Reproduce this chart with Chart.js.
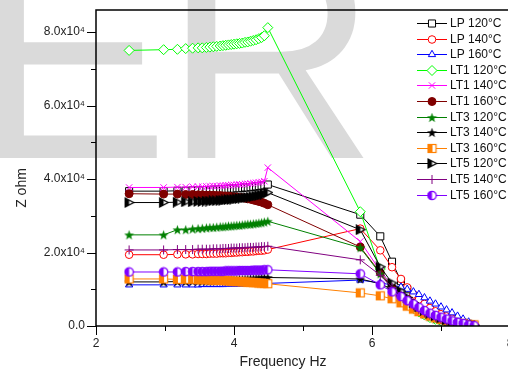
<!DOCTYPE html>
<html>
<head>
<meta charset="utf-8">
<script src="https://cdn.jsdelivr.net/npm/chart.js@4.4.1/dist/chart.umd.min.js"></script>
<style>
html, body { margin: 0; padding: 0; background: #fff; width: 508px; height: 370px; overflow: hidden; }
#wrap { position: relative; width: 520px; height: 370px; }
#wm { position: absolute; left: -28px; top: -92px; font: 296px/1 "Liberation Sans", Arial, sans-serif;
      color: #dadada; white-space: nowrap; letter-spacing: -6px; }
#c { position: absolute; left: 0; top: 0; }
</style>
</head>
<body>
<div id="wrap">
  <div id="wm">ER</div>
  <canvas id="c" width="520" height="370"></canvas>
</div>
<script>
// Z (ohm) vs log frequency — values in units of 1e4 ohm
const FONT = '"Liberation Sans", Arial, sans-serif';

const LOG_F = [2.48, 2.98, 3.18, 3.30, 3.40, 3.48, 3.54, 3.60, 3.65, 3.70, 3.75, 3.80, 3.84, 3.88, 3.92, 3.96, 4.00,
               4.04, 4.08, 4.12, 4.16, 4.20, 4.24, 4.28, 4.32, 4.36, 4.40, 4.44, 4.49,
               5.83, 6.12, 6.29, 6.42, 6.51, 6.60, 6.68, 6.76, 6.84, 6.92, 7.00, 7.08, 7.16, 7.24, 7.32, 7.40, 7.48];

const LP_120  = [3.67,3.67,3.68,3.68,3.69,3.69,3.69,3.70,3.70,3.71,3.71,3.72,3.72,3.73,3.73,3.74,3.74,3.75,3.75,3.76,3.77,3.77,3.78,3.79,3.80,3.81,3.82,3.83,3.85,
                 3.03,2.44,1.75,1.22,1.00,0.82,0.68,0.56,0.46,0.37,0.30,0.24,0.18,0.13,0.09,0.06,0.03];
const LP_140  = [1.94,1.94,1.95,1.95,1.95,1.96,1.96,1.96,1.97,1.97,1.97,1.98,1.98,1.98,1.99,1.99,2.00,2.00,2.01,2.01,2.02,2.02,2.03,2.03,2.04,2.05,2.05,2.06,2.08,
                 2.65,2.06,1.60,1.28,1.05,0.86,0.72,0.60,0.49,0.40,0.32,0.26,0.20,0.15,0.10,0.07,0.04];
const LP_160  = [1.12,1.12,1.12,1.12,1.12,1.12,1.13,1.13,1.13,1.13,1.13,1.13,1.13,1.14,1.14,1.14,1.14,1.14,1.14,1.14,1.15,1.15,1.15,1.15,1.15,1.15,1.15,1.16,1.16,
                 1.25,1.17,1.12,1.06,1.00,0.93,0.86,0.77,0.68,0.60,0.52,0.44,0.36,0.27,0.19,0.11,0.04];
const LT1_120 = [7.50,7.52,7.53,7.55,7.56,7.57,7.57,7.58,7.59,7.60,7.61,7.62,7.63,7.64,7.65,7.66,7.67,7.68,7.69,7.70,7.72,7.73,7.75,7.77,7.79,7.82,7.85,7.90,8.12,
                 3.11,1.55,1.05,0.80,0.62,0.48,0.38,0.30,0.23,0.18,0.14,0.10,0.07,0.05,0.03,0.02,0.01];
const LT1_140 = [3.77,3.77,3.78,3.78,3.79,3.79,3.79,3.80,3.80,3.81,3.81,3.82,3.82,3.83,3.83,3.84,3.84,3.85,3.85,3.86,3.87,3.87,3.88,3.89,3.90,3.91,3.92,3.94,4.31,
                 2.30,1.50,1.10,0.85,0.68,0.55,0.44,0.36,0.29,0.23,0.18,0.14,0.10,0.07,0.05,0.03,0.02];
const LT1_160 = [3.60,3.59,3.59,3.58,3.58,3.57,3.57,3.56,3.56,3.56,3.55,3.55,3.54,3.54,3.53,3.52,3.51,3.51,3.50,3.49,3.48,3.46,3.45,3.43,3.41,3.39,3.37,3.34,3.30,
                 2.15,1.45,1.05,0.82,0.66,0.53,0.43,0.35,0.28,0.22,0.17,0.13,0.10,0.07,0.05,0.03,0.02];
const LT3_120 = [2.48,2.48,2.62,2.62,2.64,2.65,2.66,2.67,2.68,2.68,2.69,2.70,2.70,2.71,2.72,2.72,2.73,2.74,2.74,2.75,2.76,2.77,2.77,2.78,2.79,2.80,2.81,2.83,2.85,
                 2.13,1.42,1.02,0.80,0.63,0.50,0.40,0.32,0.25,0.19,0.14,0.10,0.07,0.04,0.02,0.01,0.00];
const LT3_140 = [1.20,1.20,1.21,1.21,1.22,1.22,1.22,1.23,1.23,1.23,1.24,1.24,1.24,1.25,1.25,1.26,1.26,1.26,1.27,1.27,1.28,1.28,1.29,1.29,1.30,1.30,1.31,1.31,1.32,
                 1.28,1.15,1.00,0.85,0.70,0.58,0.48,0.40,0.33,0.27,0.22,0.17,0.13,0.09,0.06,0.04,0.02];
const LT3_160 = [1.28,1.28,1.27,1.27,1.27,1.26,1.26,1.26,1.25,1.25,1.25,1.24,1.24,1.23,1.23,1.22,1.22,1.21,1.21,1.20,1.20,1.19,1.19,1.18,1.18,1.17,1.17,1.16,1.15,
                 0.90,0.82,0.74,0.63,0.54,0.46,0.39,0.33,0.27,0.22,0.18,0.14,0.11,0.08,0.06,0.04,0.03];
const LT5_120 = [3.36,3.36,3.37,3.38,3.38,3.39,3.39,3.40,3.40,3.41,3.41,3.42,3.42,3.43,3.44,3.44,3.45,3.46,3.47,3.48,3.49,3.50,3.51,3.52,3.54,3.55,3.57,3.59,3.63,
                 2.62,1.61,1.17,0.95,0.78,0.64,0.52,0.43,0.35,0.28,0.22,0.17,0.13,0.09,0.06,0.04,0.02];
const LT5_140 = [2.07,2.07,2.08,2.08,2.08,2.09,2.09,2.09,2.09,2.10,2.10,2.10,2.11,2.11,2.11,2.12,2.12,2.12,2.13,2.13,2.13,2.14,2.14,2.14,2.15,2.15,2.16,2.16,2.17,
                 1.80,1.38,1.05,0.84,0.68,0.55,0.45,0.37,0.30,0.24,0.19,0.15,0.11,0.08,0.05,0.03,0.02];
const LT5_160 = [1.47,1.47,1.47,1.48,1.48,1.48,1.48,1.48,1.49,1.49,1.49,1.49,1.49,1.50,1.50,1.50,1.50,1.50,1.51,1.51,1.51,1.51,1.51,1.52,1.52,1.52,1.52,1.53,1.53,
                 1.42,1.12,0.93,0.80,0.69,0.60,0.51,0.42,0.35,0.29,0.24,0.19,0.14,0.10,0.07,0.03,0.01];

const NAMES  = ['LP 120°C','LP 140°C','LP 160°C','LT1 120°C','LT1 140°C','LT1 160°C',
                'LT3 120°C','LT3 140°C','LT3 160°C','LT5 120°C','LT5 140°C','LT5 160°C'];
const SERIES = [LP_120, LP_140, LP_160, LT1_120, LT1_140, LT1_160, LT3_120, LT3_140, LT3_160, LT5_120, LT5_140, LT5_160];
const COLORS = ['#000000','#ff0000','#0000ff','#00ff00','#ff00ff','#800000',
                '#008000','#000000','#ff8000','#000000','#800080','#8000ff'];
const X_TICKS = [2, 4, 6, 8];
const Y_TICKS = [0, 20000, 40000, 60000, 80000];

// ─── custom marker canvases ───
function mk(size, draw) {
  const c = document.createElement('canvas');
  c.width = c.height = size;
  draw(c.getContext('2d'), size / 2);
  return c;
}
function star(color) {
  return mk(11, (g, m) => {
    g.beginPath();
    for (let k = 0; k < 10; k++) {
      const r = k % 2 ? 2.1 : 5.2, a = -Math.PI / 2 + k * Math.PI / 5;
      g.lineTo(m + r * Math.cos(a), m + 0.5 + r * Math.sin(a));
    }
    g.closePath();
    g.fillStyle = color; g.fill();
  });
}
function halfCircle(color) {
  return mk(11, (g, m) => {
    g.fillStyle = '#fff'; g.beginPath(); g.arc(m, m, 4.2, 0, 2 * Math.PI); g.fill();
    g.fillStyle = color; g.beginPath(); g.arc(m, m, 4.2, Math.PI / 2, Math.PI * 1.5); g.fill();
    g.strokeStyle = color; g.lineWidth = 1.3; g.beginPath(); g.arc(m, m, 4.2, 0, 2 * Math.PI); g.stroke();
  });
}
function halfSquare(color) {
  return mk(11, (g, m) => {
    g.fillStyle = '#fff'; g.fillRect(1.5, 1.5, 8, 8);
    g.fillStyle = color; g.fillRect(1.5, 1.5, 4.5, 8);
    g.strokeStyle = color; g.lineWidth = 1.2; g.strokeRect(1.5, 1.5, 8, 8);
  });
}
function halfRightTri(color) {
  return mk(11, (g, m) => {
    const path = () => { g.beginPath(); g.moveTo(1.5, 1); g.lineTo(10, 5.5); g.lineTo(1.5, 10); g.closePath(); };
    path(); g.fillStyle = '#fff'; g.fill();
    g.save(); g.beginPath(); g.rect(0, 0, 5.5, 11); g.clip(); path(); g.fillStyle = color; g.fill(); g.restore();
    path(); g.strokeStyle = color; g.lineWidth = 1.2; g.stroke();
  });
}

const MARKERS = [
  { style: 'rect',     r: 5,   bg: '#fff' },
  { style: 'circle',   r: 3.8, bg: '#fff' },
  { style: 'triangle', r: 4.2, bg: '#fff' },
  { style: 'rectRot',  r: 5,   bg: '#fff' },
  { style: 'crossRot', r: 4.5, bg: COLORS[4] },
  { style: 'circle',   r: 4,   bg: COLORS[5] },
  { style: star(COLORS[6]),         r: 5, bg: COLORS[6] },
  { style: star(COLORS[7]),         r: 5, bg: COLORS[7] },
  { style: halfSquare(COLORS[8]),   r: 5, bg: COLORS[8] },
  { style: halfRightTri(COLORS[9]), r: 5, bg: COLORS[9] },
  { style: 'cross',    r: 4.5, bg: COLORS[10] },
  { style: halfCircle(COLORS[11]),  r: 5, bg: COLORS[11] },
];

const datasets = SERIES.map((vals, i) => ({
  label: NAMES[i],
  data: vals.map((v, k) => ({ x: LOG_F[k], y: v * 1e4 })),
  borderColor: COLORS[i],
  backgroundColor: MARKERS[i].bg,
  borderWidth: 1,
  pointStyle: MARKERS[i].style,
  pointRadius: MARKERS[i].r,
  pointBackgroundColor: MARKERS[i].bg,
  pointBorderColor: COLORS[i],
  pointBorderWidth: 1,
  tension: 0,
  order: SERIES.length - i,   // later series on top, like the original
}));

// ─── axes frame, ticks, titles ───
const framePlugin = {
  id: 'frame',
  afterDraw(chart) {
    const { ctx, chartArea: a, scales: { x, y } } = chart;
    ctx.save();
    ctx.strokeStyle = '#000';
    ctx.lineWidth = 1.5;
    ctx.strokeRect(a.left, a.top, a.right - a.left, a.bottom - a.top);
    ctx.lineWidth = 1;
    ctx.beginPath();
    X_TICKS.forEach((v, i) => {
      const px = Math.round(x.getPixelForValue(v)) + 0.5;
      ctx.moveTo(px, a.bottom); ctx.lineTo(px, a.bottom + 9);
      if (i < X_TICKS.length - 1) {
        const pm = Math.round(x.getPixelForValue(v + 1)) + 0.5;
        ctx.moveTo(pm, a.bottom); ctx.lineTo(pm, a.bottom + 5);
      }
    });
    Y_TICKS.forEach((v, i) => {
      const py = Math.round(y.getPixelForValue(v)) + 0.5;
      ctx.moveTo(a.left, py); ctx.lineTo(a.left - 9, py);
      if (i < Y_TICKS.length - 1) {
        const pm = Math.round(y.getPixelForValue(v + 10000)) + 0.5;
        ctx.moveTo(a.left, pm); ctx.lineTo(a.left - 5, pm);
      }
    });
    ctx.stroke();

    ctx.fillStyle = '#222';
    ctx.font = '14px ' + FONT;
    ctx.textAlign = 'center';
    ctx.textBaseline = 'middle';
    ctx.fillText('Frequency Hz', 283, 362);
    ctx.translate(22, 188);
    ctx.rotate(-Math.PI / 2);
    ctx.fillText('Z ohm', 0, 0);
    ctx.restore();
  }
};

// ─── legend: line + marker + label ───
const legendPlugin = {
  id: 'sideLegend',
  afterDraw(chart) {
    const ctx = chart.ctx;
    ctx.save();
    ctx.font = '12px ' + FONT;
    ctx.textBaseline = 'middle';
    chart.data.datasets.forEach((ds, i) => {
      const y = Math.round(23 + i * 15.6) + 0.5;
      ctx.strokeStyle = ds.borderColor;
      ctx.lineWidth = 1;
      ctx.beginPath(); ctx.moveTo(417, y); ctx.lineTo(447, y); ctx.stroke();
      ctx.fillStyle = ds.pointBackgroundColor;
      ctx.strokeStyle = ds.pointBorderColor;
      Chart.helpers.drawPoint(ctx, { pointStyle: ds.pointStyle, radius: ds.pointRadius, borderWidth: 1, rotation: 0 }, 432, y);
      ctx.fillStyle = '#111';
      ctx.fillText(ds.label, 450, y + 0.5);
    });
    ctx.restore();
  }
};

new Chart(document.getElementById('c').getContext('2d'), {
  type: 'line',
  data: { datasets },
  options: {
    responsive: false,
    animation: false,
    layout: { padding: { top: 10, right: 10, left: 0, bottom: 0 } },
    plugins: { legend: { display: false }, tooltip: { enabled: false } },
    scales: {
      x: {
        type: 'linear', min: 2, max: 8,
        afterFit: s => { s.height = 44; },
        afterBuildTicks: s => { s.ticks = X_TICKS.map(v => ({ value: v })); },
        grid: { display: false, drawTicks: true, tickLength: 9 },
        border: { display: false },
        ticks: { padding: 1, maxRotation: 0, autoSkip: false, color: '#222',
                 font: { size: 12, family: FONT }, callback: v => v },
      },
      y: {
        min: 0, max: 86000,
        afterFit: s => { s.width = 96; },
        afterBuildTicks: s => { s.ticks = Y_TICKS.map(v => ({ value: v })); },
        grid: { display: false, drawTicks: true, tickLength: 9 },
        border: { display: false },
        ticks: { padding: 2, autoSkip: false, color: '#222',
                 font: { size: 12, family: FONT },
                 callback: v => v === 0 ? '0.0' : (v / 1e4).toFixed(1) + 'x10⁴' },
      },
    },
  },
  plugins: [framePlugin, legendPlugin],
});
</script>
</body>
</html>
